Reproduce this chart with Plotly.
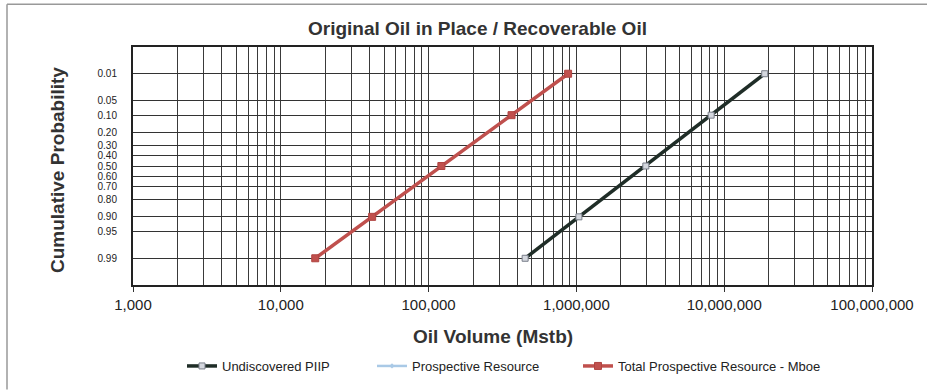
import plotly.graph_objects as go
from statistics import NormalDist

# ---- data ----
prob_ticks = [0.01, 0.05, 0.10, 0.20, 0.30, 0.40, 0.50, 0.60, 0.70, 0.80, 0.90, 0.95, 0.99]
prob_tick_labels = ["0.01", "0.05", "0.10", "0.20", "0.30", "0.40", "0.50",
                    "0.60", "0.70", "0.80", "0.90", "0.95", "0.99"]
x_ticks = [1e3, 1e4, 1e5, 1e6, 1e7, 1e8]
x_tick_labels = ["1,000", "10,000", "100,000", "1,000,000", "10,000,000", "100,000,000"]

point_probs = [0.99, 0.90, 0.50, 0.10, 0.01]
piip = [450000, 1040000, 2950000, 8160000, 18800000]
prospective = [17100, 41500, 122000, 364000, 879000]
total_prospective = [17100, 41500, 122000, 364000, 879000]

nd = NormalDist()
def z(p):
    return nd.inv_cdf(p)

yz_ticks = [z(p) for p in prob_ticks]
yz_points = [z(p) for p in point_probs]
minor_x = [m * 10 ** d for d in range(3, 8) for m in range(2, 10)]

L, R, T, B = 133, 55, 47, 105
W, H = 927, 391
PW, PH = W - L - R, H - T - B
def px(xp):
    return (xp - L) / PW
def py(yp):
    return (H - B - yp) / PH

fig = go.Figure()
fig.add_trace(go.Scatter(
    x=piip, y=yz_points, name="Undiscovered PIIP", mode="lines+markers",
    line=dict(color="#1f2d27", width=3.5),
    marker=dict(symbol="square", size=6, color="#d4d7de", line=dict(color="#7a7f8a", width=1)),
    legend="legend"))
fig.add_trace(go.Scatter(
    x=prospective, y=yz_points, name="Prospective Resource", mode="lines+markers",
    line=dict(color="#a9c9e6", width=2.5),
    marker=dict(symbol="diamond", size=4, color="#a9c9e6"),
    legend="legend2"))
fig.add_trace(go.Scatter(
    x=total_prospective, y=yz_points, name="Total Prospective Resource - Mboe", mode="lines+markers",
    line=dict(color="#c0504d", width=3.5),
    marker=dict(symbol="square", size=7, color="#c0504d", line=dict(color="#b04340", width=1)),
    legend="legend3"))

font_family = "Liberation Sans, Arial, sans-serif"
legend_common = dict(orientation="h", yanchor="middle", xanchor="left", y=py(366),
                     font=dict(size=13, color="#222", family=font_family),
                     bgcolor="rgba(0,0,0,0)", borderwidth=0)

fig.update_layout(
    width=W, height=H,
    margin=dict(l=L, r=R, t=T, b=B),
    paper_bgcolor="white", plot_bgcolor="white",
    font=dict(family=font_family, color="#222"),
    showlegend=True,
    legend=dict(legend_common, x=px(182)),
    legend2=dict(legend_common, x=px(372)),
    legend3=dict(legend_common, x=px(578)),
    xaxis=dict(
        type="log", range=[3, 8],
        tickvals=x_ticks, ticktext=x_tick_labels,
        tickfont=dict(size=15, color="#222"),
        ticks="outside", ticklen=5, tickcolor="#333", ticklabelstandoff=0,
        showgrid=True, gridcolor="#3a3a3a", gridwidth=1,
        minor=dict(tickvals=minor_x, showgrid=True, gridcolor="#3a3a3a", gridwidth=1, ticks=""),
        showline=True, linecolor="#222", linewidth=2, mirror=True,
        zeroline=False,
    ),
    yaxis=dict(
        range=[3, -3],
        tickvals=yz_ticks, ticktext=prob_tick_labels,
        tickfont=dict(size=10, color="#222"),
        ticks="", ticklabelstandoff=12,
        showgrid=True, gridcolor="#333", gridwidth=1,
        showline=True, linecolor="#222", linewidth=2, mirror=True,
        zeroline=False,
    ),
    annotations=[
        dict(text="<b>Original Oil in Place / Recoverable Oil</b>", xref="paper", yref="paper",
             x=px(477), y=py(28), xanchor="center", yanchor="middle", showarrow=False,
             font=dict(size=19, color="#333", family=font_family)),
        dict(text="<b>Oil Volume (Mstb)</b>", xref="paper", yref="paper",
             x=px(493), y=py(337.5), xanchor="center", yanchor="middle", showarrow=False,
             font=dict(size=19, color="#333", family=font_family)),
        dict(text="<b>Cumulative Probability</b>", xref="paper", yref="paper",
             x=px(57.5), y=py(171), xanchor="center", yanchor="middle", showarrow=False,
             textangle=-90, font=dict(size=19, color="#333", family=font_family)),
    ],
    shapes=[
        dict(type="line", xref="paper", yref="paper", x0=px(7), x1=px(927), y0=py(4), y1=py(4),
             line=dict(color="#999", width=1.5)),
        dict(type="line", xref="paper", yref="paper", x0=px(7), x1=px(7), y0=py(4), y1=py(391),
             line=dict(color="#999", width=1.5)),
    ],
)

fig.write_html("out.html", config={"displayModeBar": False},
               post_script="document.body.style.margin='0';document.body.style.overflow='hidden';")
